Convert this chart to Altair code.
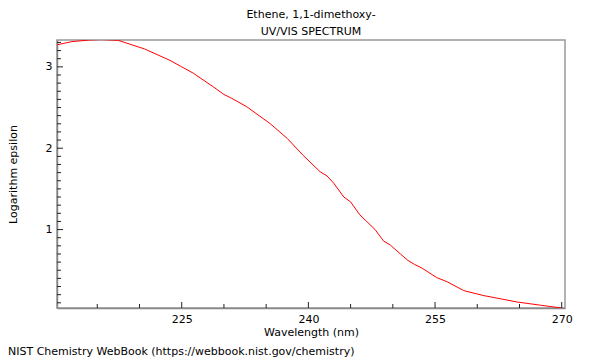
import altair as alt
import pandas as pd

wavelength = [210.2, 212.0, 214.1, 215.5, 217.5, 220.6, 223.6, 225.0, 226.4, 228.8,
              230.0, 230.8, 232.7, 235.5, 237.5, 239.4, 241.4, 242.2, 243.0, 244.2,
              245.0, 246.1, 247.9, 248.9, 249.7, 250.9, 251.8, 252.6, 253.4, 255.2,
              256.4, 258.4, 260.7, 264.7, 267.5, 270.0]
log_eps = [3.27, 3.31, 3.33, 3.335, 3.325, 3.22, 3.08, 3.00, 2.92, 2.75,
           2.66, 2.62, 2.51, 2.30, 2.12, 1.91, 1.71, 1.66, 1.57, 1.40,
           1.34, 1.18, 1.00, 0.86, 0.81, 0.70, 0.62, 0.57, 0.53, 0.41,
           0.36, 0.25, 0.19, 0.11, 0.07, 0.036]

x_major = [225, 240, 255, 270]
x_minor = [215, 220, 230, 235, 245, 250, 260, 265]
y_major = [1, 2, 3]
y_minor = [0.1, 0.2, 0.3, 0.4, 0.5, 0.6, 0.7, 0.8, 0.9,
           1.1, 1.2, 1.3, 1.4, 1.5, 1.6, 1.7, 1.8, 1.9,
           2.1, 2.2, 2.3, 2.4, 2.5, 2.6, 2.7, 2.8, 2.9,
           3.1, 3.2, 3.3]

title_lines = ["Ethene, 1,1-dimethoxy-", "UV/VIS SPECTRUM"]
footer = "NIST Chemistry WebBook (https://webbook.nist.gov/chemistry)"

X_DOMAIN = [210.23, 270.39]
Y_DOMAIN = [0.036, 3.33]
FONT = "DejaVu Sans"
W, H = 508, 268

xs = alt.Scale(domain=X_DOMAIN, nice=False, zero=False)
ys = alt.Scale(domain=Y_DOMAIN, nice=False, zero=False)

df = pd.DataFrame({"wl": wavelength, "le": log_eps})

line = alt.Chart(df).mark_line(color="#ff0000", strokeWidth=1, clip=True).encode(
    x=alt.X("wl:Q", scale=xs,
            axis=alt.Axis(values=x_major, ticks=False, grid=False, labelPadding=5,
                          format="d",
                          title="Wavelength (nm)", titleX=W / 2, titleY=24,
                          titleBaseline="middle", titleAlign="center",
                          domainColor="#888888", domainWidth=1.5)),
    y=alt.Y("le:Q", scale=ys,
            axis=alt.Axis(values=y_major, ticks=False, grid=False, labelPadding=5,
                          format="d",
                          title="Logarithm epsilon", titleX=-44, titleY=H / 2,
                          titleBaseline="middle", titleAlign="center",
                          domainColor="#888888", domainWidth=1.5)),
)

def xticks(vals, length):
    return alt.Chart(pd.DataFrame({"t": vals})).mark_rule(color="#222222", strokeWidth=1).encode(
        x=alt.X("t:Q", scale=xs), y=alt.value(H), y2=alt.value(H - length))

def yticks(vals, length):
    return alt.Chart(pd.DataFrame({"t": vals})).mark_rule(color="#222222", strokeWidth=1).encode(
        y=alt.Y("t:Q", scale=ys), x=alt.value(0), x2=alt.value(length))

foot = alt.Chart(pd.DataFrame({"t": [footer]})).mark_text(
    align="left", baseline="middle", font=FONT, fontSize=11, color="#000000"
).encode(text="t:N", x=alt.value(-49), y=alt.value(312))

chart = alt.layer(
    line, xticks(x_minor, 4), xticks(x_major, 6), yticks(y_minor, 4), yticks(y_major, 6), foot
).properties(
    width=W, height=H,
    title=alt.TitleParams(text=title_lines, font=FONT, fontSize=11, fontWeight="normal",
                          color="#000000", anchor="middle", frame="group",
                          lineHeight=17, offset=3),
    autosize=alt.AutoSizeParams(type="none"),
    padding={"left": 49, "top": 32, "right": 27, "bottom": 49},
).configure_view(stroke="#999999", strokeWidth=1.5).configure_axis(
    labelFont=FONT, labelFontSize=11, labelColor="#000000",
    titleFont=FONT, titleFontSize=11, titleColor="#000000", titleFontWeight="normal",
)

chart.save("out.html", embed_options={"renderer": "svg", "actions": False})
